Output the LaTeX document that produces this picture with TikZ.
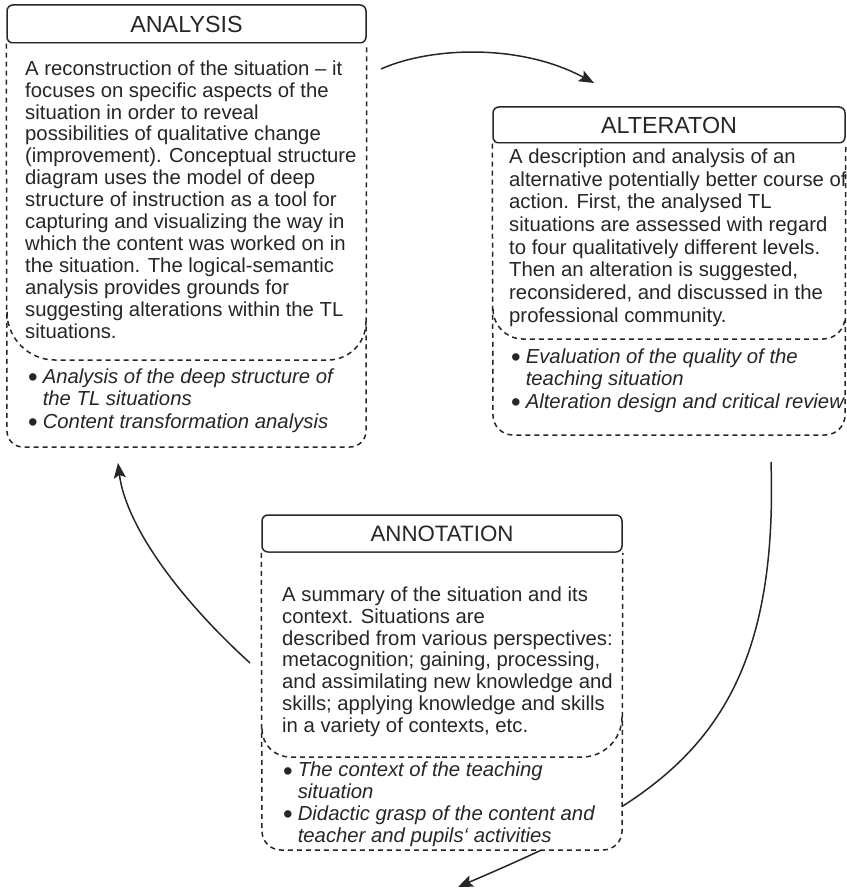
\documentclass[tikz,border=0pt]{standalone}
\usepackage{fontspec}
\setmainfont{Liberation Sans}
\usetikzlibrary{arrows.meta,backgrounds}
\definecolor{ink}{HTML}{262626}
\newcommand{\bl}{{\upshape\raisebox{-3.6pt}{\scalebox{1.35}{\textbullet}}}\hspace{5pt}}
\newcommand{\bi}{\phantom{\bl}}
\begin{document}
\begin{tikzpicture}[x=1pt,y=-1pt,
  hdr/.style={draw=ink, line width=1.5pt, rounded corners=6pt, fill=white, inner sep=0pt, text=ink},
  frame/.style={draw=ink, line width=1.5pt, dash pattern=on 5pt off 4pt},
  body/.style={anchor=base west, align=left, inner sep=0pt, text=ink, font=\fontsize{20.3}{21.9}\selectfont},
  lst/.style={anchor=base west, align=left, inner sep=0pt, text=ink, font=\fontsize{20.3}{22.5}\selectfont\itshape},
  conn/.style={draw=ink, line width=1.5pt, -{Stealth[length=15pt,width=12pt,inset=3pt]}}]
\useasboundingbox (0,0) rectangle (846,890);

% ---------- connectors (behind boxes) ----------
\coordinate (abS) at (381,69);
\coordinate (abE) at (594,83);
\coordinate (bcS) at (771,462);
\coordinate (bcE) at (458,887);
\coordinate (caS) at (250,663);
\coordinate (caE) at (118,463);
\begin{pgfonlayer}{background}
\draw[conn] (abS) .. controls (430,47) and (520,43) .. (abE);
\draw[conn] (bcS) .. controls (780,740) and (660,800) .. (bcE);
\draw[conn] (caS) .. controls (170,590) and (125,520) .. (caE);
\end{pgfonlayer}

% ---------- ANALYSIS ----------
\node[hdr, minimum width=359pt, minimum height=38pt, font=\fontsize{23.3}{28}\selectfont] (hA) at (186.5,24) {ANALYSIS};
\draw[frame, fill=white, rounded corners=16pt] (hA.south west) -- (7,447) -- (366,447) -- (hA.south east);
\draw[frame, rounded corners=48pt] (7,312) -- (7,360) -- (186,360);
\draw[frame, rounded corners=38pt] (186,360) -- (366,360) -- (366,322);
\node[body] (tA) at (25,338) {A reconstruction of the situation – it\\
focuses on specific aspects of the\\
situation in order to reveal\\
possibilities of qualitative change\\
(improvement). Conceptual structure\\
diagram uses the model of deep\\
structure of instruction as a tool for\\
capturing and visualizing the way in\\
which the content was worked on in\\
the situation. The logical-semantic\\
analysis provides grounds for\\
suggesting alterations within the TL\\
situations.};
\node[lst] (lA) at (28,428) {\bl Analysis of the deep structure of\\
\bi the TL situations\\
\bl Content transformation analysis};

% ---------- ALTERATON ----------
\node[hdr, minimum width=352pt, minimum height=36pt, font=\fontsize{23.3}{28}\selectfont] (hB) at (669,125) {ALTERATON};
\draw[frame, fill=white, rounded corners=20pt] (hB.south west) -- (493,435) -- (845,435) -- (hB.south east);
\draw[frame, rounded corners=30pt] (493,309) -- (493,339) -- (669,339);
\draw[frame, rounded corners=22pt] (669,339) -- (845,339) -- (845,317);
\node[body, font=\fontsize{20.3}{22.6}\selectfont] (tB) at (509,322) {A description and analysis of an\\
alternative potentially better course of\\
action. First, the analysed TL\\
situations are assessed with regard\\
to four qualitatively different levels.\\
Then an alteration is suggested,\\
reconsidered, and discussed in the\\
professional community.};
\node[lst] (lB) at (511,408) {\bl Evaluation of the quality of the\\
\bi teaching situation\\
\bl Alteration design and critical review};

% ---------- ANNOTATION ----------
\node[hdr, minimum width=360pt, minimum height=37pt, font=\fontsize{22.3}{27}\selectfont] (hC) at (442,533.5) {ANNOTATION};
\draw[frame, fill=white, rounded corners=19pt] (hC.south west) -- (262,850) -- (622,850) -- (hC.south east);
\draw[frame, rounded corners=28pt] (262,729) -- (262,757) -- (442,757);
\draw[frame, rounded corners=40pt] (442,757) -- (622,757) -- (622,717);
\node[body, font=\fontsize{20.3}{21.7}\selectfont] (tC) at (282,732) {A summary of the situation and its\\
context. Situations are\\
described from various perspectives:\\
metacognition; gaining, processing,\\
and assimilating new knowledge and\\
skills; applying knowledge and skills\\
in a variety of contexts, etc.};
\node[lst, font=\fontsize{20.3}{21.7}\selectfont\itshape] (lC) at (283,842) {\bl The context of the teaching\\
\bi situation\\
\bl Didactic grasp of the content and\\
\bi teacher and pupils‘ activities};
\end{tikzpicture}
\end{document}
